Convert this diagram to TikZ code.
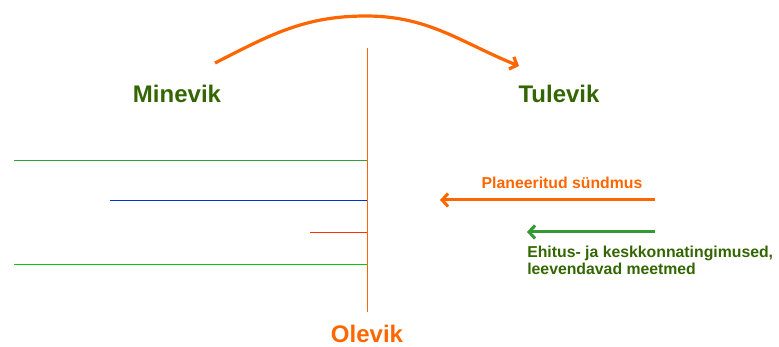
\documentclass[tikz,border=0pt]{standalone}
\usepackage{fontspec}
\setmainfont{Liberation Sans}
\usetikzlibrary{positioning, arrows.meta}

\definecolor{oranz}{HTML}{FF6600}
\definecolor{tumeroheline}{HTML}{336600}
\definecolor{roheline}{HTML}{339933}
\definecolor{joon1}{HTML}{33A033}
\definecolor{joon2}{HTML}{0033CC}
\definecolor{joon3}{HTML}{FF3300}
\definecolor{joon4}{HTML}{00CC00}

\begin{document}
\begin{tikzpicture}[x=1pt, y=-1pt, semithick,
    ajasilt/.style={font=\bfseries\fontsize{24}{28}\selectfont},
    silt/.style={font=\bfseries\fontsize{15.8}{16.5}\selectfont},
    nool/.style={-{Straight Barb[length=6pt,width=13pt]}, line width=3pt}]
    \useasboundingbox (0,0) rectangle (779,347);

    \node[ajasilt, text=tumeroheline] (minevik) at (177,94) {Minevik};
    \node[ajasilt, text=tumeroheline] (tulevik) at (559,94) {Tulevik};
    \node[ajasilt, text=oranz] (olevik) at (367,334) {Olevik};

    % ajatelg
    \coordinate (ylal) at (367,48);
    \coordinate (all) at (367,312);
    \draw[oranz, line width=1pt] (ylal) -- (all);

    % kaar minevikust tulevikku
    \coordinate (kaar1) at (215,63);
    \coordinate (tipp) at (366,16);
    \coordinate (kaar2) at (519,66);
    \draw[oranz, nool, line width=3.2pt] (kaar1) to[out=27,in=180] (tipp) to[out=0,in=158] (kaar2);

    % joonte algused
    \coordinate (a1) at (14,160);  \coordinate (b1) at (367,160);
    \coordinate (a2) at (110,200); \coordinate (b2) at (367,200);
    \coordinate (a3) at (310,232); \coordinate (b3) at (367,232);
    \coordinate (a4) at (14,264);  \coordinate (b4) at (367,264);
    \draw[joon1, thin] (a1) -- (b1);
    \draw[joon2, thin] (a2) -- (b2);
    \draw[joon3, thin] (a3) -- (b3);
    \draw[joon4, thin] (a4) -- (b4);

    % nooled paremal
    \coordinate (p1) at (655,200); \coordinate (p2) at (440,200);
    \coordinate (r1) at (655,232); \coordinate (r2) at (527,232);
    \draw[oranz, nool] (p1) -- (p2);
    \draw[roheline, nool] (r1) -- (r2);

    \node[silt, text=oranz] (plan) at (562,183) {Planeeritud sündmus};
    \node[silt, text=tumeroheline, align=left, anchor=north west, inner sep=0pt] (ehitus) at (527,246)
        {Ehitus- ja keskkonnatingimused,\\leevendavad meetmed};
\end{tikzpicture}
\end{document}
